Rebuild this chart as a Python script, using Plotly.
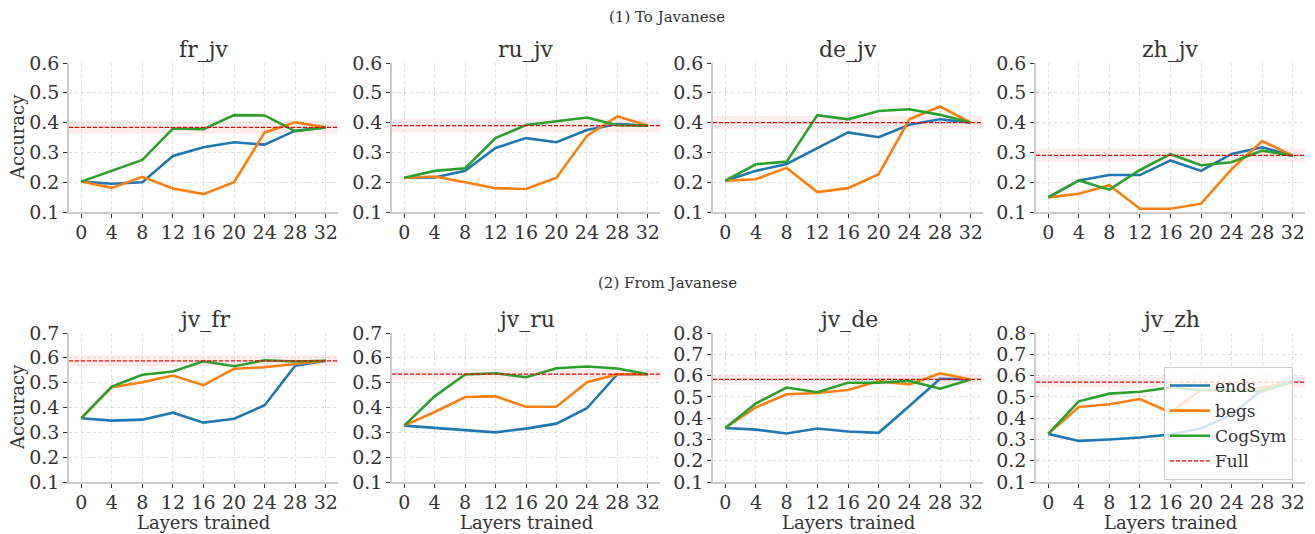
import plotly.graph_objects as go

W, H = 1315, 534

layers = [0, 4, 8, 12, 16, 20, 24, 28, 32]
x_ticks = [0, 4, 8, 12, 16, 20, 24, 28, 32]

pairs = ["fr_jv", "ru_jv", "de_jv", "zh_jv", "jv_fr", "jv_ru", "jv_de", "jv_zh"]

ends = {
    "fr_jv": [0.202, 0.195, 0.200, 0.288, 0.317, 0.334, 0.326, 0.373, 0.384],
    "ru_jv": [0.215, 0.216, 0.238, 0.315, 0.348, 0.334, 0.375, 0.395, 0.390],
    "de_jv": [0.205, 0.238, 0.261, 0.313, 0.367, 0.351, 0.393, 0.411, 0.400],
    "zh_jv": [0.149, 0.206, 0.224, 0.224, 0.273, 0.238, 0.295, 0.317, 0.289],
    "jv_fr": [0.357, 0.347, 0.351, 0.379, 0.339, 0.355, 0.409, 0.568, 0.588],
    "jv_ru": [0.327, 0.319, 0.308, 0.300, 0.315, 0.335, 0.397, 0.534, 0.534],
    "jv_de": [0.354, 0.346, 0.328, 0.351, 0.337, 0.331, 0.457, 0.585, 0.582],
    "jv_zh": [0.326, 0.293, 0.300, 0.309, 0.323, 0.352, 0.415, 0.535, 0.571],
}
begs = {
    "fr_jv": [0.202, 0.181, 0.218, 0.179, 0.160, 0.200, 0.367, 0.401, 0.384],
    "ru_jv": [0.215, 0.219, 0.200, 0.180, 0.177, 0.215, 0.355, 0.421, 0.390],
    "de_jv": [0.205, 0.210, 0.248, 0.167, 0.180, 0.227, 0.411, 0.454, 0.400],
    "zh_jv": [0.149, 0.161, 0.190, 0.111, 0.111, 0.128, 0.244, 0.338, 0.289],
    "jv_fr": [0.357, 0.482, 0.502, 0.529, 0.490, 0.556, 0.562, 0.576, 0.588],
    "jv_ru": [0.327, 0.382, 0.442, 0.445, 0.403, 0.403, 0.502, 0.534, 0.534],
    "jv_de": [0.354, 0.451, 0.512, 0.518, 0.532, 0.574, 0.558, 0.611, 0.582],
    "jv_zh": [0.326, 0.452, 0.465, 0.490, 0.427, 0.532, 0.530, 0.543, 0.571],
}
cogsym = {
    "fr_jv": [0.202, 0.239, 0.275, 0.380, 0.378, 0.425, 0.424, 0.371, 0.384],
    "ru_jv": [0.215, 0.238, 0.247, 0.348, 0.392, 0.404, 0.417, 0.391, 0.390],
    "de_jv": [0.205, 0.260, 0.269, 0.425, 0.411, 0.439, 0.445, 0.426, 0.400],
    "zh_jv": [0.149, 0.206, 0.175, 0.241, 0.294, 0.257, 0.267, 0.306, 0.289],
    "jv_fr": [0.357, 0.484, 0.532, 0.545, 0.586, 0.566, 0.590, 0.585, 0.588],
    "jv_ru": [0.327, 0.445, 0.533, 0.538, 0.522, 0.558, 0.565, 0.557, 0.534],
    "jv_de": [0.354, 0.469, 0.544, 0.522, 0.566, 0.566, 0.575, 0.538, 0.582],
    "jv_zh": [0.326, 0.479, 0.515, 0.524, 0.544, 0.532, 0.532, 0.526, 0.571],
}
full = {"fr_jv": 0.384, "ru_jv": 0.390, "de_jv": 0.400, "zh_jv": 0.290,
        "jv_fr": 0.588, "jv_ru": 0.534, "jv_de": 0.582, "jv_zh": 0.569}
full_std = {"fr_jv": 0.021, "ru_jv": 0.023, "de_jv": 0.022, "zh_jv": 0.022,
            "jv_fr": 0.022, "jv_ru": 0.022, "jv_de": 0.025, "jv_zh": 0.025}
y_max = {"fr_jv": 0.6, "ru_jv": 0.6, "de_jv": 0.6, "zh_jv": 0.6,
         "jv_fr": 0.7, "jv_ru": 0.7, "jv_de": 0.8, "jv_zh": 0.8}
y_min = 0.1

row_titles = ["(1) To Javanese", "(2) From Javanese"]
series = [("ends", ends, "#1f77b4"), ("begs", begs, "#ff7f0e"), ("CogSym", cogsym, "#2ca02c")]

FONT = "DejaVu Serif, serif"
TXT = "#333333"

# layout geometry (pixels)
col_px = [(69, 338), (392, 660), (713, 983), (1036, 1305)]
row_px = [(63, 212), (333, 482)]

fig = go.Figure()
annotations = []
shapes = []

for i, p in enumerate(pairs):
    r, c = divmod(i, 4)
    n = i + 1
    xa = "x" if n == 1 else f"x{n}"
    ya = "y" if n == 1 else f"y{n}"
    for name, d, col in series:
        fig.add_trace(go.Scatter(
            x=layers, y=d[p], mode="lines", name=name,
            line=dict(color=col, width=2.6),
            xaxis=xa, yaxis=ya, showlegend=(i == 7), legendgroup=name,
        ))
    shapes.append(dict(type="rect", xref=f"{xa} domain", yref=ya, x0=0, x1=1,
                       y0=full[p] - full_std[p], y1=full[p] + full_std[p],
                       fillcolor="rgba(255,0,0,0.07)", line=dict(width=0), layer="below"))
    shapes.append(dict(type="line", xref=f"{xa} domain", yref=ya, x0=0, x1=1,
                       y0=full[p], y1=full[p],
                       line=dict(color="#ff0000", width=1.2, dash="4px,2px"), layer="above"))
    x0, x1 = col_px[c]
    y0, y1 = row_px[r]
    axcommon = dict(showline=True, linecolor="#cccccc", linewidth=1.5, mirror=False,
                    ticks="outside", ticklen=4, tickwidth=1, tickcolor="#333333",
                    showgrid=True, gridcolor="#dddddd", gridwidth=1, griddash="dot",
                    zeroline=False, automargin=False,
                    tickfont=dict(family=FONT, size=19, color=TXT))
    fig.update_layout(**{
        ("xaxis" if n == 1 else f"xaxis{n}"): dict(
            domain=[x0 / W, x1 / W], range=[-1.6, 33.6], tickvals=x_ticks,
            anchor=ya, ticklabelstandoff=-2, **axcommon),
        ("yaxis" if n == 1 else f"yaxis{n}"): dict(
            domain=[1 - y1 / H, 1 - y0 / H], range=[y_min, y_max[p]], dtick=0.1,
            tick0=0.1, tickformat=".1f", anchor=xa, **axcommon),
    })
    annotations.append(dict(text=p, x=(x0 + x1) / 2 / W, y=1 - (y0 - 14) / H,
                            xref="paper", yref="paper", showarrow=False,
                            xanchor="center", yanchor="middle",
                            font=dict(family=FONT, size=22, color=TXT)))
    if r == 1:
        annotations.append(dict(text="Layers trained", x=(x0 + x1) / 2 / W, y=1 - 522 / H,
                                xref="paper", yref="paper", showarrow=False,
                                xanchor="center", yanchor="middle",
                                font=dict(family=FONT, size=18, color=TXT)))
    if c == 0:
        annotations.append(dict(text="Accuracy", x=17.5 / W, y=1 - (y0 + y1) / 2 / H,
                                xref="paper", yref="paper", showarrow=False, textangle=-90,
                                xanchor="center", yanchor="middle",
                                font=dict(family=FONT, size=18, color=TXT)))

# legend entry for the Full reference line (drawn as shapes above)
fig.add_trace(go.Scatter(x=[None], y=[None], mode="lines", name="Full",
                         line=dict(color="#ff0000", width=1.2, dash="4px,2px"),
                         xaxis="x8", yaxis="y8", showlegend=True))

for k, t in enumerate(row_titles):
    annotations.append(dict(text=t, x=667 / W, y=1 - [16.5, 283][k] / H,
                            xref="paper", yref="paper", showarrow=False,
                            xanchor="center", yanchor="middle",
                            font=dict(family=FONT, size=15, color=TXT)))

fig.update_layout(
    width=W, height=H, margin=dict(l=0, r=0, t=0, b=0, autoexpand=False),
    paper_bgcolor="white", plot_bgcolor="white",
    font=dict(family=FONT, color=TXT),
    annotations=annotations, shapes=shapes,
    legend=dict(x=1164 / W, y=1 - 367 / H, xanchor="left", yanchor="top",
                bgcolor="rgba(255,255,255,0.8)", bordercolor="#cccccc", borderwidth=1,
                font=dict(family=FONT, size=17, color=TXT), tracegroupgap=0,
                itemwidth=40),
)

fig.write_html("out.html")
